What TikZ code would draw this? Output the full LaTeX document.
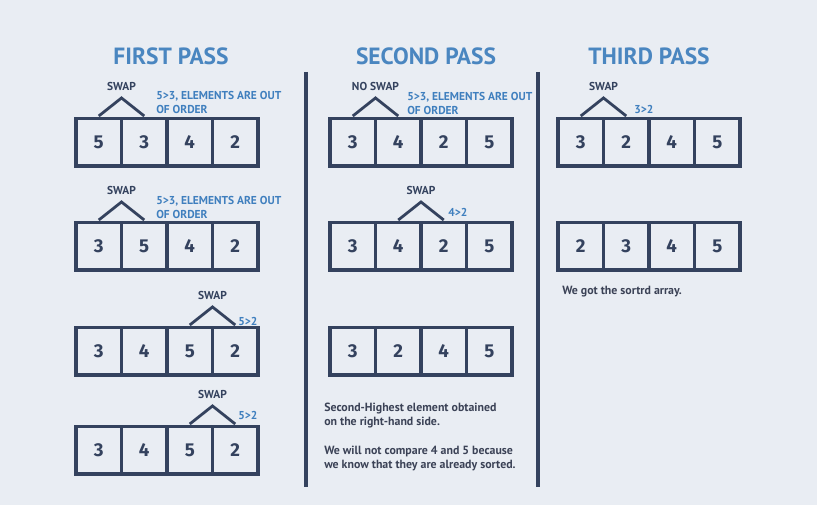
\documentclass[tikz,border=0pt]{standalone}
\usepackage{fontspec}
\setmainfont{PT Sans}[BoldFont={PT Sans Bold}]
\newfontfamily\digitfont{Fira Sans}
\definecolor{bg}{HTML}{E9EDF3}
\definecolor{navy}{HTML}{34425E}
\definecolor{ttl}{HTML}{4A86C0}
\definecolor{ann}{HTML}{3F7FBE}
\definecolor{txt}{HTML}{3B4256}
\tikzset{
  cell/.style={draw=navy, line width=2.3pt, minimum width=34.1pt, minimum height=35.3pt, inner sep=0pt, outer sep=0pt, text=navy, font=\digitfont\bfseries\fontsize{14}{16}\selectfont},
  title/.style={text=ttl, font=\bfseries\fontsize{17.6}{20}\selectfont, inner sep=0pt},
  swaplbl/.style={text=navy, font=\bfseries\fontsize{8.6}{10}\selectfont, inner sep=0pt},
  note/.style={text=ann, font=\bfseries\fontsize{8.6}{10.5}\selectfont, inner sep=0pt, align=left, anchor=west},
  body/.style={text=txt, font=\bfseries\fontsize{8.9}{10.6}\selectfont, inner sep=0pt, align=left, anchor=north west},
  caret/.style={draw=navy, line width=2.1pt},
  sep/.style={draw=navy, line width=2.3pt}
}
\newcommand\arrrow[7]{%
  \foreach \v [count=\i] in {#4,#5,#6,#7} {
    \node[cell] (#1\i) at (#2+45.5*\i-22.75, #3+23.5) {\v};
  }%
}
\newcommand\caretdraw[4]{% first cell, second cell, label, name
  \coordinate (#4s) at ([yshift=2.2pt]#1.north);
  \coordinate (#4e) at ([yshift=2.2pt]#2.north);
  \coordinate (#4a) at ($(#1.north)!0.5!(#2.north)+(0,-21)$);
  \draw[caret] (#4s) -- (#4a) -- (#4e);
  \node[swaplbl] (#4l) at ($(#4a)+(0,-11.5)$) {#3};
}
\usetikzlibrary{calc}
\begin{document}
\begin{tikzpicture}[x=0.75pt,y=-0.75pt]
\fill[bg] (0,0) rectangle (817,505);
\useasboundingbox (0,0) rectangle (817,505);
% titles
\node[title] (t1) at (171,56) {FIRST PASS};
\node[title] (t2) at (426,56) {SECOND PASS};
\node[title] (t3) at (649,56) {THIRD PASS};
% separators
\draw[sep] (306,72) -- (306,487);
\draw[sep] (538,72) -- (538,487);
% first pass
\arrrow{fa}{76}{119}{5}{3}{4}{2}
\arrrow{fb}{76}{223}{3}{5}{4}{2}
\arrrow{fc}{76}{328}{3}{4}{5}{2}
\arrrow{fd}{76}{427}{3}{4}{5}{2}
\caretdraw{fa1}{fa2}{SWAP}{ka}
\caretdraw{fb1}{fb2}{SWAP}{kb}
\caretdraw{fc3}{fc4}{SWAP}{kc}
\caretdraw{fd3}{fd4}{SWAP}{kd}
\node[note] (na) at (156,102) {5>3, ELEMENTS ARE OUT\\OF ORDER};
\node[note] (nb) at (156,207.5) {5>3, ELEMENTS ARE OUT\\OF ORDER};
\node[note] (nc) at (238,321) {5>2};
\node[note] (nd) at (238,415) {5>2};
% second pass
\arrrow{sa}{330}{119}{3}{4}{2}{5}
\arrrow{sb}{330}{223}{3}{4}{2}{5}
\arrrow{sc}{330}{328}{3}{2}{4}{5}
\caretdraw{sa1}{sa2}{NO SWAP}{ke}
\caretdraw{sb2}{sb3}{SWAP}{kf}
\node[note] (ne) at (407,103) {5>3, ELEMENTS ARE OUT\\OF ORDER};
\node[note] (nf) at (448,212) {4>2};
\node[body] (bt1) at (324,403) {Second-Highest element obtained\\on the right-hand side.};
\node[body] (bt2) at (324,446) {We will not compare 4 and 5 because\\we know that they are already sorted.};
% third pass
\arrrow{ta}{558}{119}{3}{2}{4}{5}
\arrrow{tb}{558}{223}{2}{3}{4}{5}
\caretdraw{ta1}{ta2}{SWAP}{kg}
\node[note] (ng) at (634,109) {3>2};
\node[body] (bt3) at (562,286) {We got the sortrd array.};
\end{tikzpicture}
\end{document}
